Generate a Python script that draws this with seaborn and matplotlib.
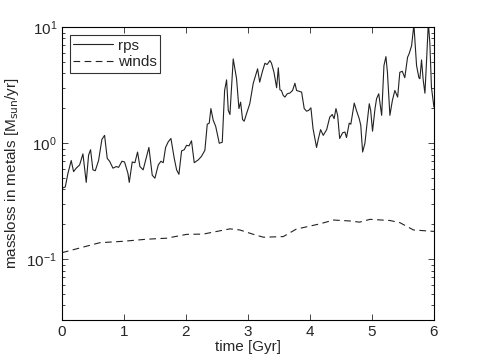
import numpy as np
import pandas as pd
import matplotlib
matplotlib.use("Agg")
import matplotlib.pyplot as plt
import seaborn as sns
from matplotlib.ticker import LogLocator, FixedLocator

# rps: mass loss in metals via ram pressure stripping
rps_t = [0.0, 0.054, 0.097, 0.15, 0.188, 0.23, 0.285, 0.339, 0.392, 0.43, 0.462, 0.5,
         0.538, 0.591, 0.645, 0.688, 0.731, 0.769, 0.823, 0.876, 0.914, 0.968, 1.01,
         1.065, 1.086, 1.134, 1.177, 1.22, 1.258, 1.31, 1.403, 1.457, 1.5, 1.554,
         1.597, 1.634, 1.672, 1.715, 1.758, 1.812, 1.85, 1.887, 1.93, 1.973, 2.01,
         2.05, 2.09, 2.134, 2.2, 2.25, 2.306, 2.344, 2.376, 2.403, 2.44, 2.48, 2.538,
         2.586, 2.624, 2.656, 2.683, 2.71, 2.763, 2.817, 2.855, 2.882, 2.914, 2.94,
         2.978, 3.03, 3.086, 3.124, 3.156, 3.19, 3.23, 3.274, 3.31, 3.355, 3.38, 3.42,
         3.463, 3.49, 3.516, 3.54, 3.57, 3.597, 3.634, 3.677, 3.72, 3.758, 3.785, 3.82,
         3.866, 3.908, 3.946, 3.98, 4.016, 4.05, 4.107, 4.134, 4.172, 4.215, 4.27,
         4.32, 4.36, 4.39, 4.42, 4.447, 4.48, 4.527, 4.565, 4.59, 4.634, 4.66, 4.715,
         4.75, 4.795, 4.82, 4.85, 4.887, 4.915, 4.957, 4.98, 5.01, 5.05, 5.075, 5.11,
         5.157, 5.194, 5.226, 5.25, 5.29, 5.33, 5.37, 5.415, 5.45, 5.49, 5.53, 5.575,
         5.6, 5.64, 5.677, 5.72, 5.758, 5.774, 5.8, 5.828, 5.855, 5.88, 5.91, 5.935,
         5.96, 6.0]
rps_val = [0.41, 0.42, 0.55, 0.71, 0.57, 0.61, 0.65, 0.81, 0.46, 0.79, 0.88, 0.59,
           0.58, 0.71, 1.08, 1.17, 0.74, 0.70, 0.61, 0.63, 0.62, 0.70, 0.69,
           0.55, 0.46, 0.69, 0.68, 0.84, 0.63, 0.59, 0.92, 0.53, 0.50, 0.65,
           0.70, 0.68, 0.92, 1.03, 1.10, 0.74, 0.59, 0.54, 0.86, 0.88, 0.96,
           0.95, 1.05, 0.68, 0.72, 0.77, 0.87, 1.46, 1.49, 1.99, 1.58, 1.40, 1.00,
           1.02, 2.85, 3.52, 1.92, 1.77, 5.33, 3.59, 1.99, 2.26, 1.60, 1.55,
           1.80, 2.19, 3.29, 3.84, 4.38, 3.36, 4.09, 4.89, 4.77, 5.16, 4.90, 4.09,
           3.01, 4.47, 2.89, 2.85, 2.58, 2.50, 2.67, 2.71, 2.85, 3.29, 2.85, 2.81,
           2.76, 1.99, 1.89, 1.92, 2.02, 1.34, 0.92, 1.08, 1.31, 1.17, 1.31,
           1.68, 1.77, 1.63, 1.99, 1.74, 1.10, 1.23, 1.25, 1.12, 1.49, 1.46, 2.22,
           1.92, 1.63, 1.43, 0.84, 1.00, 1.38, 2.19, 1.92, 1.27, 1.99, 2.42, 2.67,
           1.74, 4.67, 5.58, 4.09, 1.74, 2.34, 2.85, 2.50, 4.09, 4.17, 3.67, 5.51,
           5.90, 6.94, 10.5, 4.67, 3.67, 3.60, 5.23, 3.47, 2.70, 4.99, 11.0, 7.18,
           3.04, 2.05]

# winds: mass loss in metals via galactic winds
winds_t = [0.0, 0.61, 0.99, 1.366, 1.69, 2.01, 2.28, 2.71, 2.87, 3.09, 3.25, 3.57,
           3.78, 4.16, 4.38, 4.645, 4.8, 4.97, 5.29, 5.45, 5.67, 6.0]
winds_val = [0.114, 0.139, 0.143, 0.149, 0.152, 0.164, 0.165, 0.183, 0.179, 0.164,
             0.155, 0.157, 0.182, 0.202, 0.218, 0.214, 0.209, 0.221, 0.216, 0.207,
             0.179, 0.174]

rps_df = pd.DataFrame({"time": rps_t, "massloss": rps_val})
winds_df = pd.DataFrame({"time": winds_t, "massloss": winds_val})

sns.set_style("ticks")
plt.rcParams["font.family"] = ["Liberation Sans", "DejaVu Sans"]
plt.rcParams["xtick.direction"] = "in"
plt.rcParams["ytick.direction"] = "in"

fig = plt.figure(figsize=(4.8, 3.61), dpi=100)
ax = fig.add_axes([0.129, 0.1136, 0.775, 0.811])

sns.lineplot(data=rps_df, x="time", y="massloss", ax=ax, color="#222222",
             linewidth=0.8, label="rps")
sns.lineplot(data=winds_df, x="time", y="massloss", ax=ax, color="#222222",
             linewidth=0.8, linestyle=(0, (6, 4)), label="winds")

ax.set_yscale("log")
ax.set_xlim(0, 6)
ax.set_ylim(0.03, 10)
ax.xaxis.set_major_locator(FixedLocator([0, 1, 2, 3, 4, 5, 6]))
ax.yaxis.set_major_locator(LogLocator(base=10, numticks=10))
ax.yaxis.set_minor_locator(LogLocator(base=10, subs=np.arange(2, 10), numticks=10))
ax.tick_params(which="both", top=True, right=True, labelsize=11, width=0.6)
ax.tick_params(which="major", length=4)
ax.tick_params(which="minor", length=2)
for s in ax.spines.values():
    s.set_linewidth(0.8)
    s.set_color("black")

ax.set_xlabel("time [Gyr]", fontsize=11, labelpad=1)
ax.set_ylabel("massloss in metals [M$_{\\mathrm{sun}}$/yr]", fontsize=11, labelpad=4)

leg = ax.legend(loc="upper left", fontsize=11, frameon=True, fancybox=False,
                borderaxespad=0.5, handlelength=2.6, handletextpad=0.3,
                labelspacing=0.15, borderpad=0.25)
leg.get_frame().set_edgecolor("black")
leg.get_frame().set_linewidth(0.8)

fig.savefig("out.png", dpi=100)
